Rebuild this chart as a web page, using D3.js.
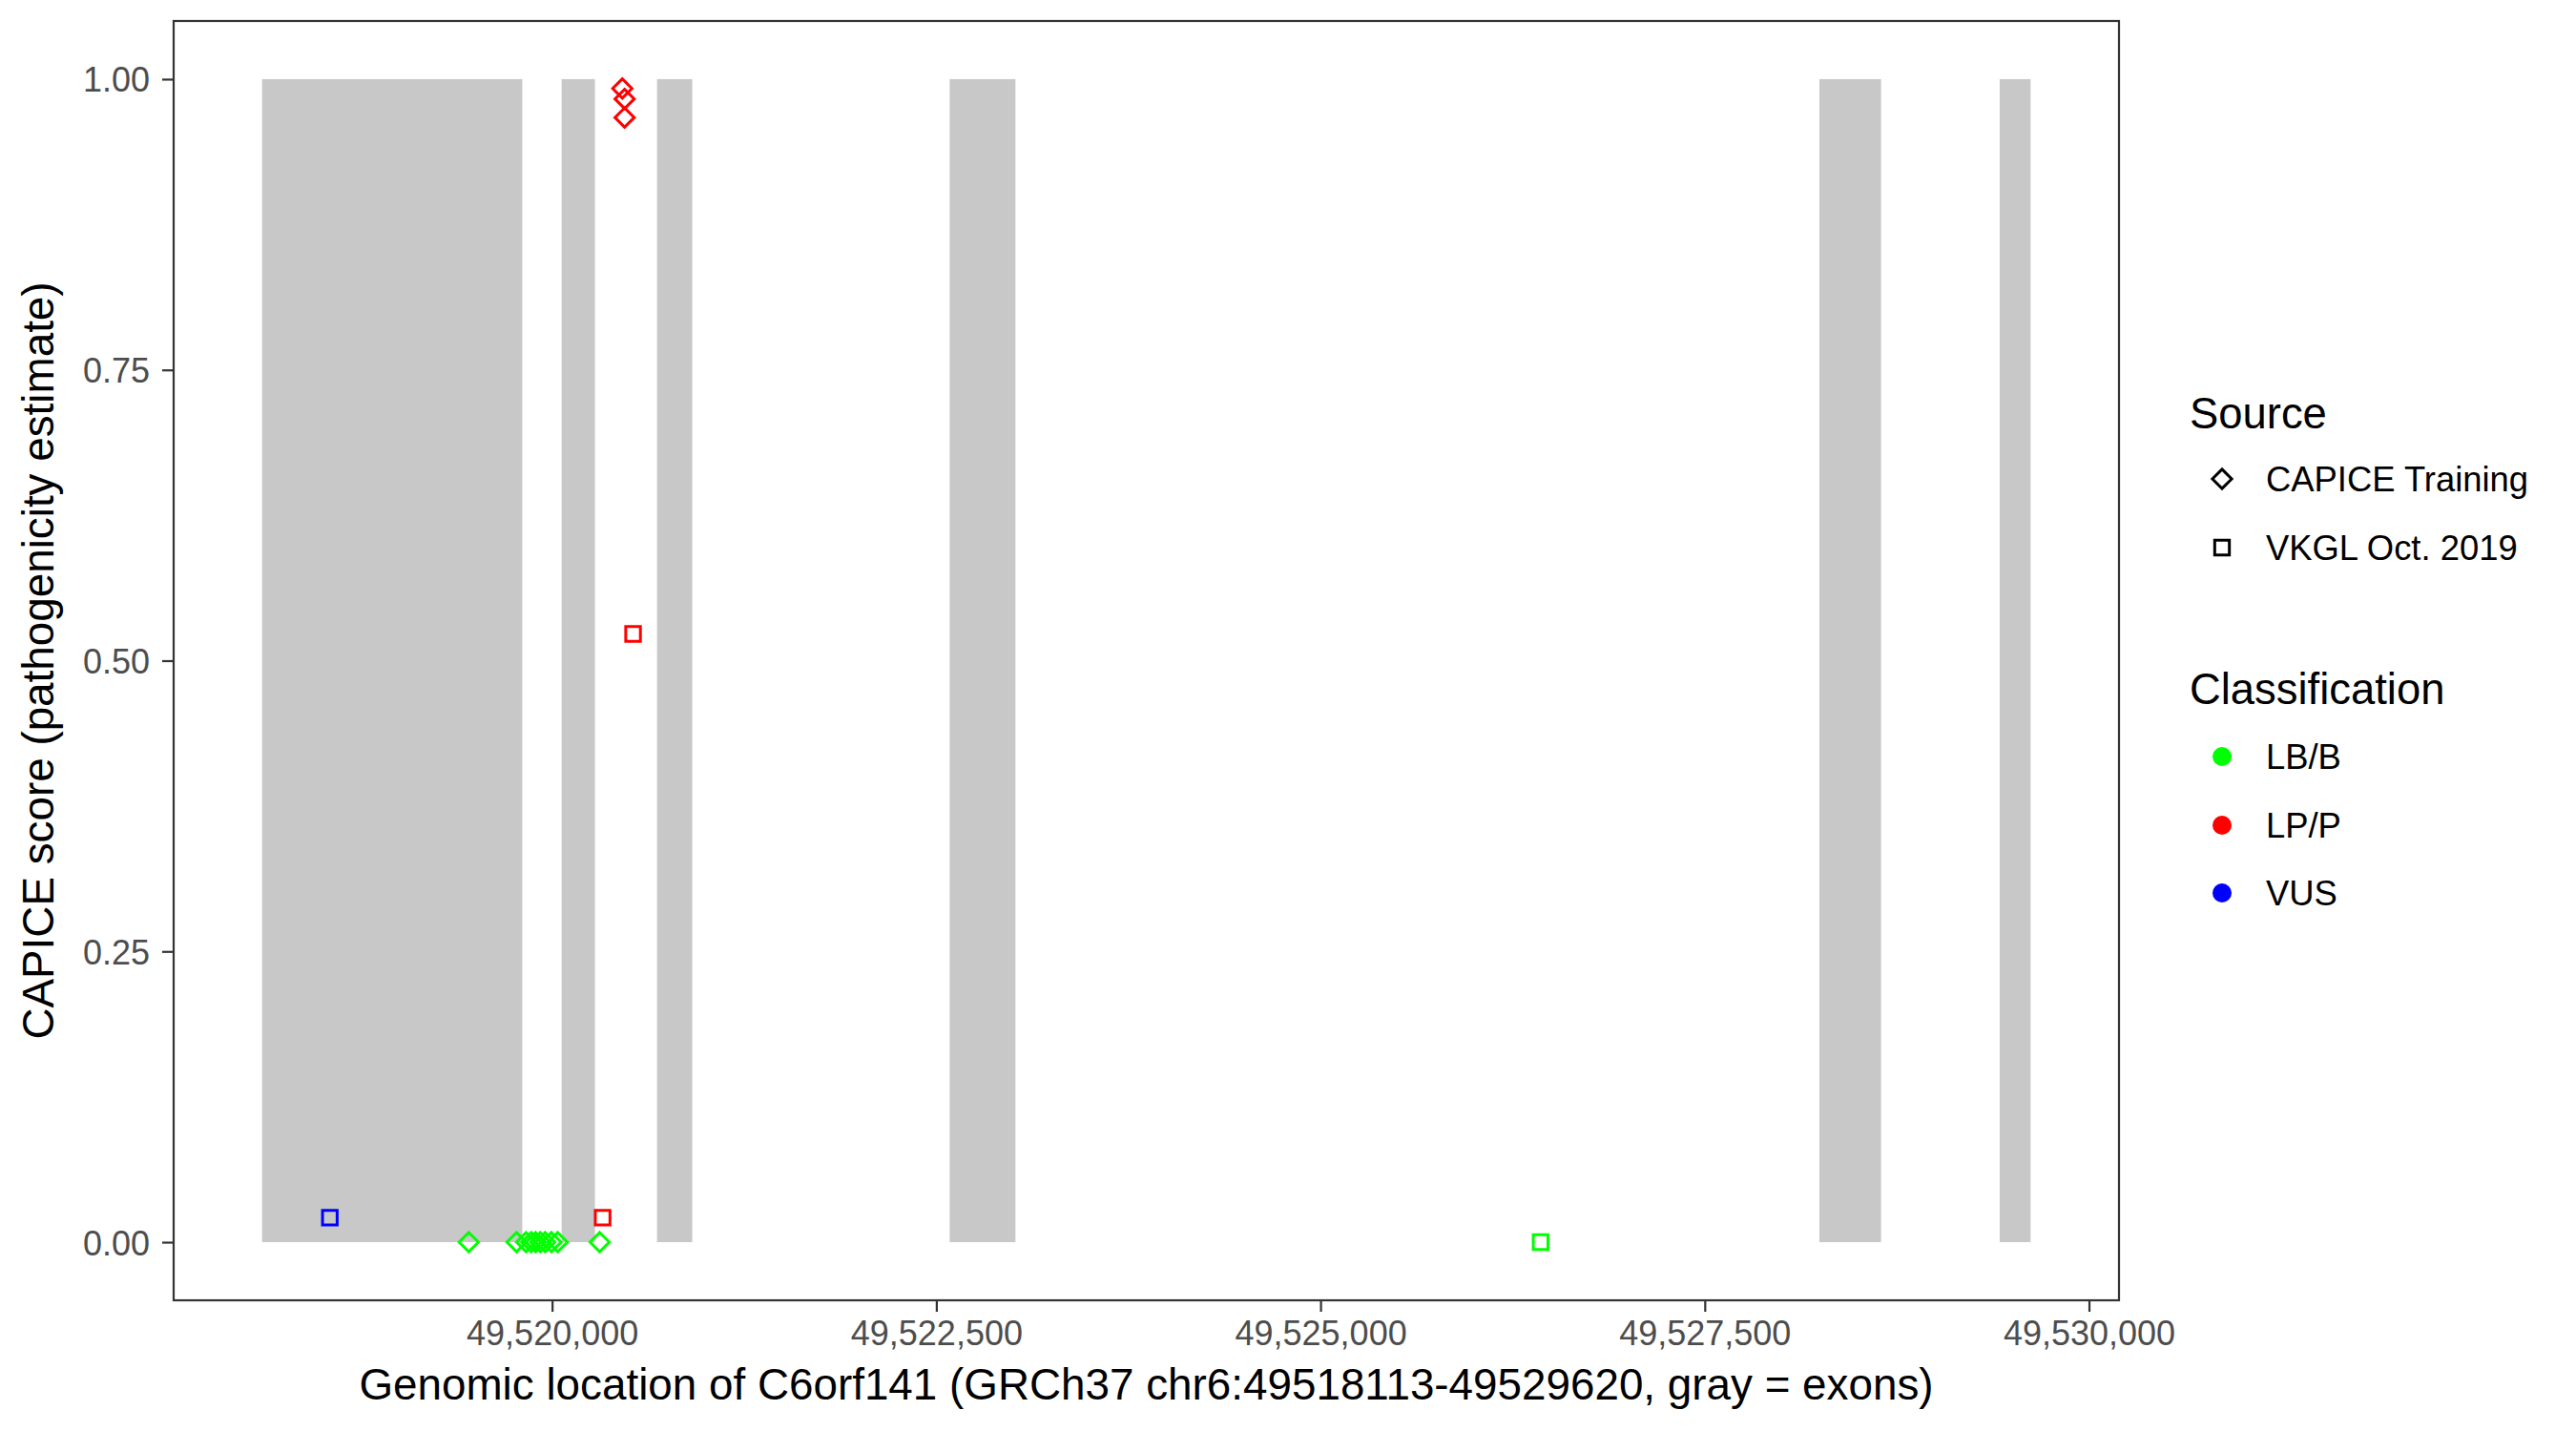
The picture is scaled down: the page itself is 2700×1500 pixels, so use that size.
<!DOCTYPE html>
<html>
<head>
<meta charset="utf-8">
<script src="https://cdn.jsdelivr.net/npm/d3@7"></script>
<style>
  body { margin: 0; background: #fff; }
  text { font-family: "Liberation Sans", Arial, sans-serif; }
</style>
</head>
<body>
<div id="chart"></div>
<script>
// Exon blocks (genomic start / end)
const exonStart = [49518113, 49520062, 49520683, 49522587, 49528246, 49529419];
const exonEnd   = [49519806, 49520279, 49520912, 49523015, 49528647, 49529620];

// Variants: position, CAPICE score, source, classification
const varPos = [
  49519458, 49519769, 49519831, 49519865, 49519893, 49519924, 49519955, 49519996, 49520037, 49520310,
  49520457, 49520472, 49520472,
  49518554, 49520329, 49520527, 49526432
];
const varScore = [
  0, 0, 0, 0, 0, 0, 0, 0, 0, 0,
  0.992, 0.983, 0.967,
  0.021, 0.021, 0.523, 0
];
const varSource = [
  "CAPICE Training", "CAPICE Training", "CAPICE Training", "CAPICE Training", "CAPICE Training",
  "CAPICE Training", "CAPICE Training", "CAPICE Training", "CAPICE Training", "CAPICE Training",
  "CAPICE Training", "CAPICE Training", "CAPICE Training",
  "VKGL Oct. 2019", "VKGL Oct. 2019", "VKGL Oct. 2019", "VKGL Oct. 2019"
];
const varClass = [
  "LB/B", "LB/B", "LB/B", "LB/B", "LB/B", "LB/B", "LB/B", "LB/B", "LB/B", "LB/B",
  "LP/P", "LP/P", "LP/P",
  "VUS", "LP/P", "LP/P", "LB/B"
];

const sources = ["CAPICE Training", "VKGL Oct. 2019"];
const classes = ["LB/B", "LP/P", "VUS"];
const classColors = ["#00ff00", "#ff0000", "#0000ff"];
const xTicks = [49520000, 49522500, 49525000, 49527500, 49530000];
const yTicks = [0, 0.25, 0.5, 0.75, 1];

const width = 2700, height = 1500;
const margin = {left: 182, right: 479, top: 22, bottom: 137};
const panelW = width - margin.left - margin.right;
const panelH = height - margin.top - margin.bottom;

const svg = d3.select("#chart").append("svg")
    .attr("width", width)
    .attr("height", height);

// ggplot-like 5% expansion on both axes
const xLo = d3.min(exonStart), xHi = d3.max(exonEnd);
const xPad = (xHi - xLo) * 0.05;
const x = d3.scaleLinear().domain([xLo - xPad, xHi + xPad]).range([0, panelW]);
const y = d3.scaleLinear().domain([-0.05, 1.05]).range([panelH, 0]);
const color = d3.scaleOrdinal().domain(classes).range(classColors);
const shape = d3.scaleOrdinal().domain(sources)
    .range([d3.symbolDiamond2, d3.symbolSquare2]);
const shapeSize = d3.scaleOrdinal().domain(sources).range([260, 300]);

const g = svg.append("g").attr("transform", `translate(${margin.left},${margin.top})`);

// exons
g.append("g").selectAll("rect")
    .data(exonStart)
    .enter().append("rect")
    .attr("x", (d, i) => x(d))
    .attr("width", (d, i) => x(exonEnd[i]) - x(d))
    .attr("y", y(1))
    .attr("height", y(0) - y(1))
    .attr("fill", "#c8c8c8");

// variants
const pts = varPos.map((p, i) => ({pos: p, score: varScore[i], src: varSource[i], cls: varClass[i]}));
g.append("g").selectAll("path")
    .data(pts)
    .enter().append("path")
    .attr("transform", d => `translate(${x(d.pos)},${y(d.score)})`)
    .attr("d", d => d3.symbol().type(shape(d.src)).size(shapeSize(d.src))())
    .attr("fill", "none")
    .attr("stroke", d => color(d.cls))
    .attr("stroke-width", 3);

// axes
const xAxis = g.append("g")
    .attr("transform", `translate(0,${panelH})`)
    .call(d3.axisBottom(x).tickValues(xTicks).tickSize(12).tickPadding(8).tickFormat(d3.format(",")));
const yAxis = g.append("g")
    .call(d3.axisLeft(y).tickValues(yTicks).tickSize(12).tickPadding(13).tickFormat(d3.format(".2f")));
[xAxis, yAxis].forEach(a => {
    a.select(".domain").remove();
    a.selectAll(".tick line").attr("stroke", "#333333").attr("stroke-width", 2.2);
    a.selectAll(".tick text")
        .attr("fill", "#4d4d4d")
        .style("font-size", "36px")
        .style("font-family", "'Liberation Sans', Arial, sans-serif");
});
yAxis.selectAll(".tick text").attr("dy", "0.36em");
xAxis.selectAll(".tick text").attr("dy", "0.75em");

// panel border
g.append("rect")
    .attr("width", panelW)
    .attr("height", panelH)
    .attr("fill", "none")
    .attr("stroke", "#333333")
    .attr("stroke-width", 2.2);

// axis titles
svg.append("text")
    .attr("x", margin.left + panelW / 2)
    .attr("y", 1467)
    .attr("text-anchor", "middle")
    .style("font-size", "45.8px")
    .text("Genomic location of C6orf141 (GRCh37 chr6:49518113-49529620, gray = exons)");
svg.append("text")
    .attr("transform", `translate(56,${margin.top + panelH / 2}) rotate(-90)`)
    .attr("text-anchor", "middle")
    .style("font-size", "45.8px")
    .text("CAPICE score (pathogenicity estimate)");

// legends
const legend = svg.append("g");
const keyX = 2329, labX = 2375, titleX = 2295;
legend.append("text").attr("x", titleX).attr("y", 449).style("font-size", "45.4px").text("Source");
const srcY = [502, 574];
sources.forEach((s, i) => {
    legend.append("path")
        .attr("transform", `translate(${keyX},${srcY[i]})`)
        .attr("d", d3.symbol().type(shape(s)).size(shapeSize(s))())
        .attr("fill", "none")
        .attr("stroke", "#000")
        .attr("stroke-width", 3);
    legend.append("text").attr("x", labX).attr("y", srcY[i]).attr("dy", "0.36em")
        .style("font-size", "36.4px").text(s);
});
legend.append("text").attr("x", titleX).attr("y", 738).style("font-size", "45.4px").text("Classification");
const clsY = [793, 865, 936];
classes.forEach((c, i) => {
    legend.append("circle")
        .attr("cx", keyX).attr("cy", clsY[i]).attr("r", 10)
        .attr("fill", color(c));
    legend.append("text").attr("x", labX).attr("y", clsY[i]).attr("dy", "0.36em")
        .style("font-size", "36.4px").text(c);
});
</script>
</body>
</html>
